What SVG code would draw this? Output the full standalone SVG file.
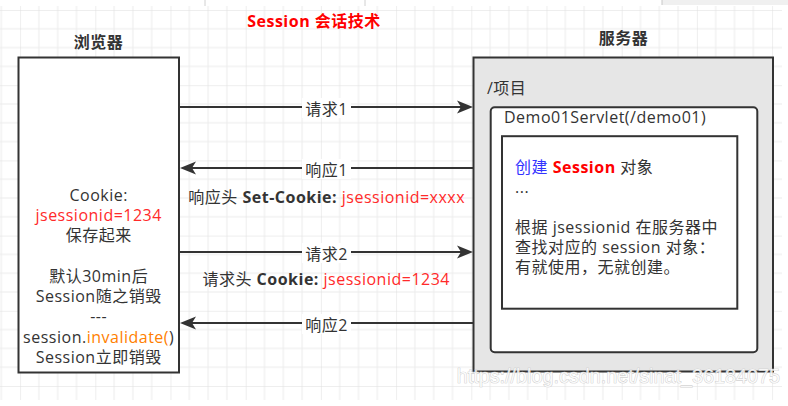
<svg xmlns="http://www.w3.org/2000/svg" width="788" height="406" viewBox="0 0 788 406">
<style>
.t{font-family:"Open Sans","Noto Sans CJK SC",sans-serif;font-size:16px;fill:#333;letter-spacing:0.5px}
.b{font-weight:bold}
.m{text-anchor:middle}
.red{fill:#ff2a2a}
.redb{fill:#ff0000;font-weight:bold}
.org{fill:#ff8000}
.blu{fill:#3333ff}
.box{stroke:#333;stroke-width:2}
.edge{stroke:#333;stroke-width:2;fill:none}
.lbg{fill:#fff}
.wm{font-family:"Liberation Sans",Arial,sans-serif;font-size:19.8px;fill:#fff;fill-opacity:0.8;stroke:#c4c4c4;stroke-width:0.7;paint-order:stroke}
</style>
<defs>
<pattern id="grid" patternUnits="userSpaceOnUse" x="20.1" y="10" width="75.2" height="75.2">
<path d="M18.8 0V75.2M37.6 0V75.2M56.4 0V75.2M0 18.8H75.2M0 37.6H75.2M0 56.4H75.2" stroke="#ececec" stroke-width="1" fill="none"/>
<path d="M0 0V75.2M0 0H75.2" stroke="#dedede" stroke-width="1" fill="none"/>
</pattern>
<marker id="arr" markerUnits="userSpaceOnUse" markerWidth="16" markerHeight="13" refX="6" refY="6.5" orient="auto" overflow="visible">
<path d="M0 0L16 6.5L0 13L4 6.5Z" fill="#333"/>
</marker>
</defs>
<rect width="788" height="406" fill="#fff"/>
<rect x="0" y="6" width="782" height="394" fill="url(#grid)"/>
<g id="topstrip">
<rect x="0" y="0" width="788" height="6" fill="#fff"/>
<path d="M205 0V6M365 0V6" stroke="#d0d0d0" stroke-width="1"/>
<rect x="662" y="0" width="126" height="5" fill="#f0f0f0"/>
<path d="M662 0V5" stroke="#c8c8c8" stroke-width="1"/>
</g>
<text id="title" class="t b m" x="314" y="27" style="fill:#ff0000">Session 会话技术</text>
<g id="browser">
<text class="t b m" x="98.5" y="47.5">浏览器</text>
<rect class="box" x="18.5" y="57.5" width="160.5" height="315" fill="#fff"/>
<text class="t m" x="98.7" y="200.5">Cookie:</text>
<text class="t m red" x="98.7" y="220.8">jsessionid=1234</text>
<text class="t m" x="98.7" y="241.1">保存起来</text>
<text class="t m" x="98.7" y="281.7">默认30min后</text>
<text class="t m" x="98.7" y="302">Session随之销毁</text>
<text class="t m" x="98.7" y="322.3">---</text>
<text class="t m" x="98.7" y="342.6">session.<tspan class="org">invalidate(</tspan>)</text>
<text class="t m" x="98.7" y="362.9">Session立即销毁</text>
</g>
<g id="server">
<text class="t b m" x="623.5" y="43.5">服务器</text>
<rect class="box" x="473.5" y="57.5" width="299.5" height="314" fill="#e6e6e6"/>
<text class="t" x="487" y="94">/项目</text>
</g>
<g id="servlet">
<rect class="box" x="490.7" y="107.2" width="266.6" height="245" rx="4" fill="#fff"/>
<text class="t" x="504" y="122.5">Demo01Servlet(/demo01)</text>
</g>
<g id="logic">
<rect class="box" x="502" y="136.2" width="235.3" height="172.5" fill="#fff"/>
<text class="t" x="515" y="172.5"><tspan class="blu">创建</tspan> <tspan class="redb">Session</tspan> 对象</text>
<text class="t" x="515" y="192.5">...</text>
<text class="t" x="515" y="232.5">根据 jsessionid 在服务器中</text>
<text class="t" x="515" y="252.5">查找对应的 session 对象：</text>
<text class="t" x="515" y="272.5">有就使用，无就创建。</text>
</g>
<g id="connectors">
<line class="edge" x1="179" y1="107" x2="463" y2="107" marker-end="url(#arr)"/>
<line class="edge" x1="473" y1="168" x2="190" y2="168" marker-end="url(#arr)"/>
<line class="edge" x1="179" y1="252" x2="463" y2="252" marker-end="url(#arr)"/>
<line class="edge" x1="473" y1="323" x2="190" y2="323" marker-end="url(#arr)"/>
<rect class="lbg" x="302" y="98" width="49" height="20"/>
<rect class="lbg" x="302" y="159" width="49" height="20"/>
<rect class="lbg" x="302" y="243" width="49" height="20"/>
<rect class="lbg" x="302" y="314" width="49" height="20"/>
<text class="t m" x="326.5" y="114.5">请求1</text>
<text class="t m" x="326.5" y="175.5">响应1</text>
<text class="t m" x="326.5" y="259.5">请求2</text>
<text class="t m" x="326.5" y="330.5">响应2</text>
<text class="t m" x="326.7" y="202.5">响应头 <tspan class="b">Set-Cookie:</tspan> <tspan class="red">jsessionid=xxxx</tspan></text>
<text class="t m" x="326.2" y="285">请求头 <tspan class="b">Cookie:</tspan> <tspan class="red">jsessionid=1234</tspan></text>
</g>
<text class="wm" x="456.7" y="383">https://blog.csdn.net/sinat_36184075</text>
</svg>
